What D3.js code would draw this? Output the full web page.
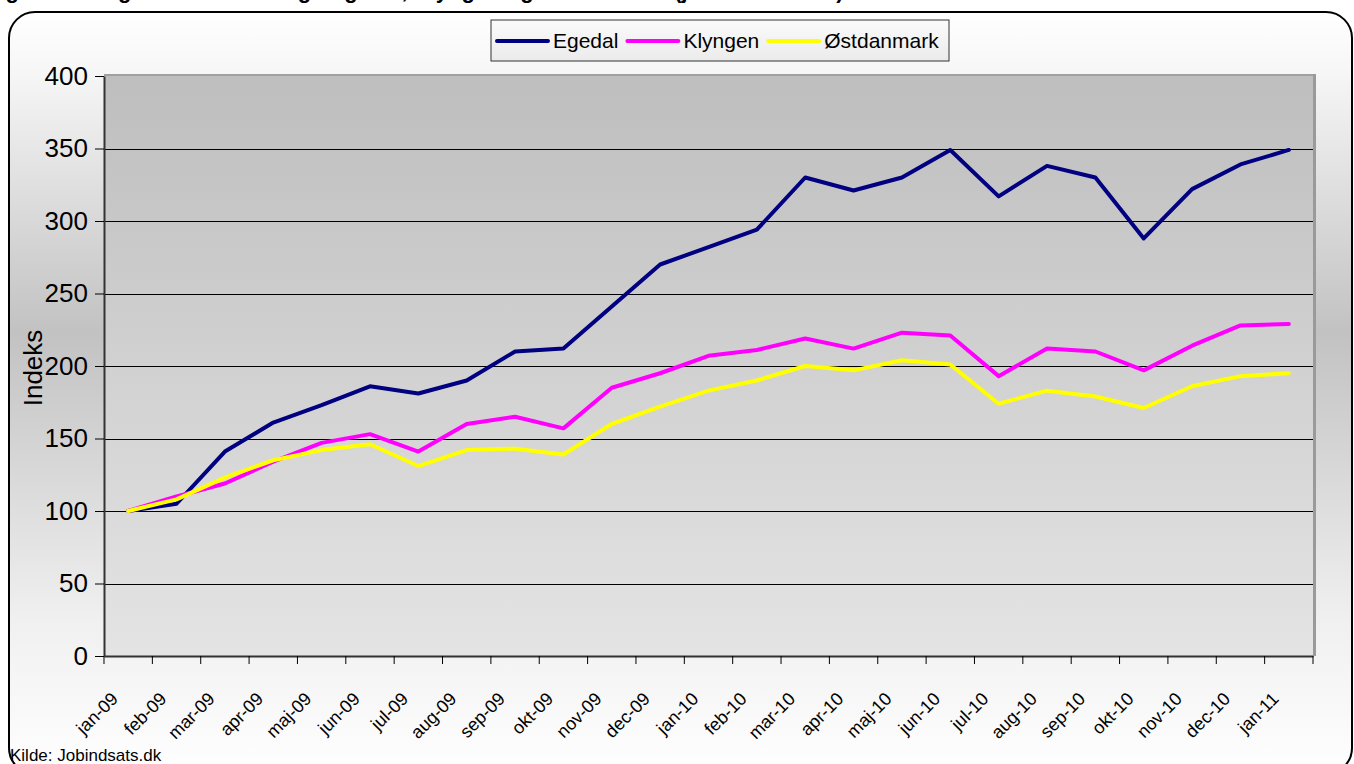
<!DOCTYPE html>
<html>
<head>
<meta charset="utf-8">
<script src="https://cdn.jsdelivr.net/npm/d3@7"></script>
<style>
body { margin: 0; background: #fff; overflow: hidden; }
svg { display: block; font-family: Arial, "Liberation Sans", sans-serif; }
</style>
</head>
<body>
<div id="chart"></div>
<script>
// month labels on the x axis
var months = ["jan-09","feb-09","mar-09","apr-09","maj-09","jun-09","jul-09","aug-09","sep-09","okt-09","nov-09","dec-09",
              "jan-10","feb-10","mar-10","apr-10","maj-10","jun-10","jul-10","aug-10","sep-10","okt-10","nov-10","dec-10",
              "jan-11"];

// index values (jan-09 = 100)
var egedal     = [100,105,141,161,173,186,181,190,210,212,241,270,282,294,330,321,330,349,317,338,330,288,322,339,349];
var klyngen    = [100,110,119,134,147,153,141,160,165,157,185,195,207,211,219,212,223,221,193,212,210,197,214,228,229];
var ostdanmark = [100,108,123,135,142,146,131,142,143,139,160,172,183,190,200,197,204,201,174,183,179,171,186,193,195];

var seriesNames  = ["Egedal", "Klyngen", "Østdanmark"];
var seriesColors = ["#000080", "#ff00ff", "#ffff00"];
var yTicks = [0, 50, 100, 150, 200, 250, 300, 350, 400];

var series = [egedal, klyngen, ostdanmark].map(function (vals, i) {
    return {name: seriesNames[i], color: seriesColors[i], values: vals};
});

var width = 1354, height = 764;
var plot = {left: 104, right: 1313, top: 76, bottom: 656};

var svg = d3.select("#chart").append("svg")
    .attr("width", width)
    .attr("height", height);

var defs = svg.append("defs");

/* background gradient of the chart frame */
var frameGrad = defs.append("linearGradient")
    .attr("id", "frameGrad").attr("x1", 0).attr("y1", 0).attr("x2", 0).attr("y2", 1);
frameGrad.append("stop").attr("offset", "0%").attr("stop-color", "#ffffff");
frameGrad.append("stop").attr("offset", "8%").attr("stop-color", "#f6f6f6");
frameGrad.append("stop").attr("offset", "42%").attr("stop-color", "#c2c2c2");
frameGrad.append("stop").attr("offset", "80%").attr("stop-color", "#f0f0f0");
frameGrad.append("stop").attr("offset", "100%").attr("stop-color", "#ffffff");

var plotGrad = defs.append("linearGradient")
    .attr("id", "plotGrad").attr("x1", 0).attr("y1", 0).attr("x2", 0).attr("y2", 1);
plotGrad.append("stop").attr("offset", "0%").attr("stop-color", "#bebebe");
plotGrad.append("stop").attr("offset", "100%").attr("stop-color", "#e4e4e4");

var legendGrad = defs.append("linearGradient")
    .attr("id", "legendGrad").attr("x1", 0).attr("y1", 0).attr("x2", 0).attr("y2", 1);
legendGrad.append("stop").attr("offset", "0%").attr("stop-color", "#fbfbfb");
legendGrad.append("stop").attr("offset", "100%").attr("stop-color", "#ebebeb");

/* title, cut off at the top of the picture: only the descenders show */
svg.append("text")
    .attr("x", -14)
    .attr("y", -2)
    .attr("font-size", "22px")
    .attr("font-weight", "bold")
    .text("Figur 4: Ledighedens udvikling i Egedal, Klyngen og Østdanmark (jan. 2009 = 100)");

/* frame with rounded corners */
svg.append("rect")
    .attr("x", 9).attr("y", 12)
    .attr("width", 1343).attr("height", 762)
    .attr("rx", 26).attr("ry", 26)
    .attr("fill", "url(#frameGrad)")
    .attr("stroke", "#000")
    .attr("stroke-width", 2);

var x = d3.scaleBand()
    .domain(months)
    .range([plot.left, plot.right]);

var y = d3.scaleLinear()
    .domain([0, 400])
    .range([plot.bottom, plot.top]);

var bw = x.bandwidth();

/* plot area */
svg.append("rect")
    .attr("x", plot.left).attr("y", plot.top - 2)
    .attr("width", plot.right - plot.left + 3).attr("height", plot.bottom - plot.top + 2)
    .attr("fill", "#a0a0a0");
svg.append("rect")
    .attr("x", plot.left).attr("y", plot.top)
    .attr("width", plot.right - plot.left).attr("height", plot.bottom - plot.top)
    .attr("fill", "url(#plotGrad)");

/* gridlines */
svg.append("g").selectAll("line")
    .data(yTicks.filter(function (d) { return d > 0 && d < 400; }))
    .enter().append("line")
    .attr("x1", plot.left).attr("x2", plot.right)
    .attr("y1", function (d) { return Math.round(y(d)) + 0.5; })
    .attr("y2", function (d) { return Math.round(y(d)) + 0.5; })
    .attr("stroke", "#000")
    .attr("stroke-width", 1);

/* y axis */
var yAxis = svg.append("g")
    .attr("transform", "translate(" + plot.left + ",0)")
    .call(d3.axisLeft(y).tickValues(yTicks).tickSize(9).tickPadding(7).tickSizeOuter(0));
yAxis.select(".domain").attr("stroke", "#333").attr("stroke-width", 2);
yAxis.selectAll(".tick line").attr("stroke", "#000");
yAxis.selectAll(".tick text")
    .attr("font-size", "26px")
    .attr("font-family", "Arial, 'Liberation Sans', sans-serif")
    .attr("fill", "#000");

svg.append("text")
    .attr("transform", "translate(42," + ((plot.top + plot.bottom) / 2 + 2) + ") rotate(-90)")
    .attr("text-anchor", "middle")
    .attr("font-size", "26px")
    .text("Indeks");

/* x axis: ticks on the category boundaries */
var xAxis = svg.append("g")
    .attr("transform", "translate(0," + plot.bottom + ")")
    .call(d3.axisBottom(x).tickSize(8).tickSizeOuter(0));
xAxis.select(".domain").attr("stroke", "#333").attr("stroke-width", 2);
xAxis.selectAll(".tick line")
    .attr("x1", -bw / 2).attr("x2", -bw / 2)
    .attr("stroke", "#000");
xAxis.append("line")
    .attr("x1", plot.right).attr("x2", plot.right)
    .attr("y1", 0).attr("y2", 8)
    .attr("stroke", "#000");
xAxis.selectAll(".tick text")
    .attr("font-size", "18px")
    .attr("font-family", "Arial, 'Liberation Sans', sans-serif")
    .attr("fill", "#000")
    .attr("text-anchor", "end")
    .attr("dy", 0)
    .attr("y", 0)
    .attr("transform", "translate(-9,44) rotate(-45)");

/* right border of plot area */
svg.append("line")
    .attr("x1", plot.right + 1.5).attr("x2", plot.right + 1.5)
    .attr("y1", plot.top - 2).attr("y2", plot.bottom)
    .attr("stroke", "#9a9a9a")
    .attr("stroke-width", 3);

/* lines */
var line = d3.line()
    .x(function (d, i) { return x(months[i]) + bw / 2; })
    .y(function (d) { return y(d); });

svg.append("g").selectAll("path")
    .data(series)
    .enter().append("path")
    .attr("d", function (d) { return line(d.values); })
    .attr("fill", "none")
    .attr("stroke", function (d) { return d.color; })
    .attr("stroke-width", 4)
    .attr("stroke-linejoin", "round")
    .attr("stroke-linecap", "round");

/* legend */
var legend = svg.append("g");
legend.append("rect")
    .attr("x", 491).attr("y", 20)
    .attr("width", 458).attr("height", 41)
    .attr("fill", "url(#legendGrad)")
    .attr("stroke", "#333")
    .attr("stroke-width", 1);

var lx = 497;
series.forEach(function (s) {
    legend.append("line")
        .attr("x1", lx).attr("x2", lx + 51)
        .attr("y1", 41).attr("y2", 41)
        .attr("stroke", s.color)
        .attr("stroke-width", 4)
        .attr("stroke-linecap", "round");
    var t = legend.append("text")
        .attr("x", lx + 56)
        .attr("y", 48)
        .attr("font-size", "21px")
        .text(s.name);
    lx = lx + 56 + t.node().getComputedTextLength() + 9;
});

/* source */
svg.append("text")
    .attr("x", 10)
    .attr("y", 761)
    .attr("font-size", "17px")
    .text("Kilde: Jobindsats.dk");
</script>
</body>
</html>
